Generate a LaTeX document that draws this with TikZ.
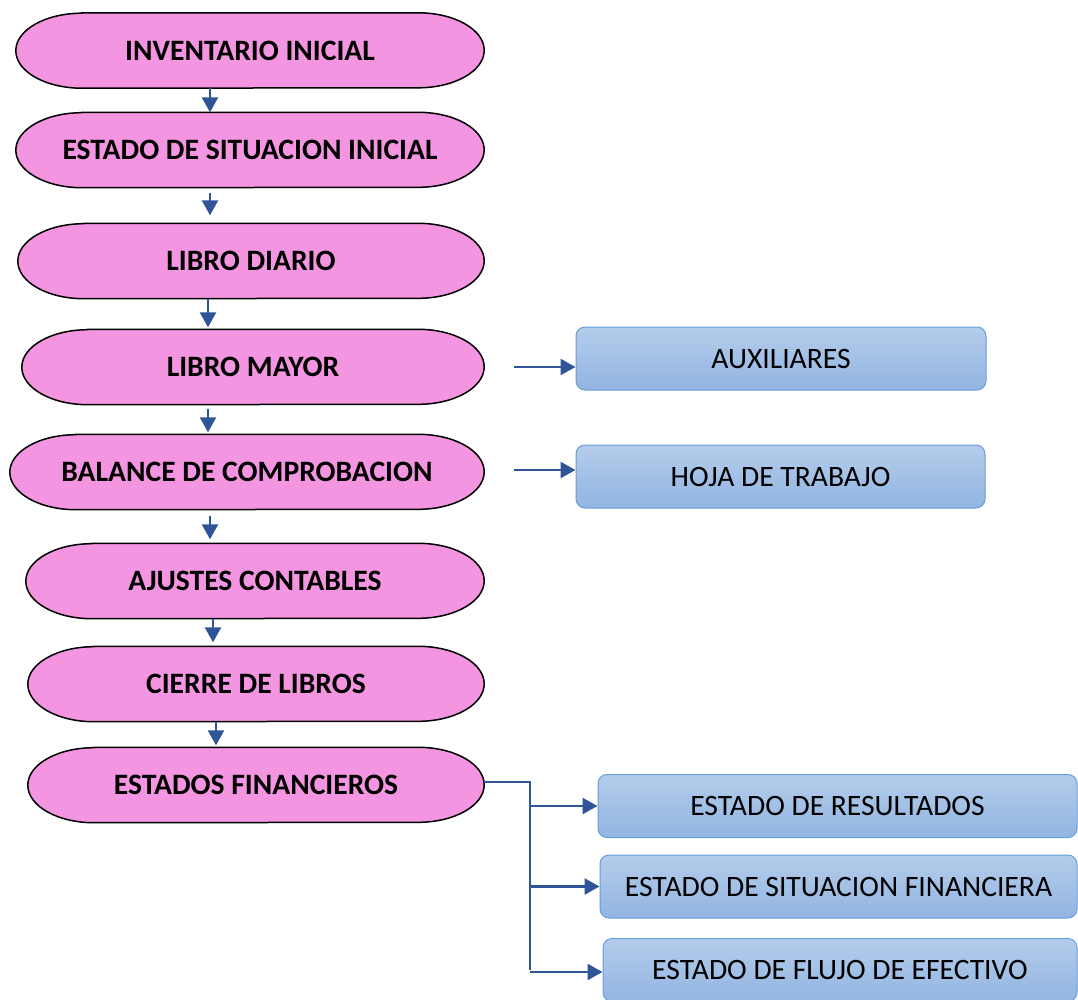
\documentclass[tikz,border=0pt]{standalone}
\usepackage{fontspec}
\setmainfont{Carlito}
\usetikzlibrary{arrows.meta,backgrounds}
\definecolor{pk}{RGB}{243, 149, 224}
\definecolor{ar}{RGB}{47, 85, 151}
\definecolor{bt}{RGB}{180, 204, 234}
\definecolor{bb}{RGB}{146, 181, 226}
\definecolor{bl}{RGB}{103, 158, 216}
\tikzset{
  pill/.style={inner sep=0pt, minimum height=75pt, font=\fontsize{29.6}{34}\selectfont\bfseries},
  pillline/.style={fill=pk, draw=black, line width=1.5pt},
  box/.style={rectangle, rounded corners=9pt, top color=bt, bottom color=bb, draw=bl,
    line width=1pt, inner sep=0pt, minimum height=63pt, font=\fontsize{29.6}{34}\selectfont},
  arr/.style={line width=2.6pt, color=ar, -{Triangle[length=15pt,width=16pt]}},
  trunk/.style={line width=1.4pt, color=ar}
}

\begin{document}
\begin{tikzpicture}
\useasboundingbox (0pt, 0pt) rectangle (1078pt, -999pt);
\node (1) [pill, minimum width=468pt] at (250pt, -50.5pt) {INVENTARIO INICIAL};
\node (2) [pill, minimum width=468pt] at (250pt, -150pt) {ESTADO DE SITUACION INICIAL};
\node (3) [pill, minimum width=466pt] at (251pt, -261pt) {LIBRO DIARIO};
\node (4) [pill, minimum width=462pt] at (253pt, -367pt) {LIBRO MAYOR};
\node (5) [pill, minimum width=474pt] at (247pt, -472pt) {BALANCE DE COMPROBACION};
\node (6) [pill, minimum width=458pt] at (255pt, -581pt) {AJUSTES CONTABLES};
\node (7) [pill, minimum width=456pt] at (256pt, -684pt) {CIERRE DE LIBROS};
\node (8) [pill, minimum width=456pt] at (256pt, -785pt) {ESTADOS FINANCIEROS};
\node (9) [box, minimum width=410pt] at (781pt, -358.5pt) {AUXILIARES};
\node (10) [box, minimum width=409pt] at (780.5pt, -476.5pt) {HOJA DE TRABAJO};
\node (11) [box, minimum width=479pt] at (837.5pt, -806pt) {ESTADO DE RESULTADOS};
\node (12) [box, minimum width=477pt] at (838.5pt, -886.5pt) {ESTADO DE SITUACION FINANCIERA};
\node (13) [box, minimum width=474pt] at (840pt, -970pt) {ESTADO DE FLUJO DE EFECTIVO};
% pink outlines behind the labels
\begin{scope}[on background layer]
\foreach \n in {1,...,8}
  \draw [pillline] ([xshift=66pt]\n.north west) -- ([xshift=-66pt]\n.north east)
    arc[start angle=90, end angle=-90, x radius=66pt, y radius=37.5pt]
    -- ([xshift=66pt]\n.south west)
    arc[start angle=270, end angle=90, x radius=66pt, y radius=37.5pt] -- cycle;
\end{scope}
\draw [arr] (1.south -| 210pt, 0) -- (2.north -| 210pt, 0);
\draw [arr, shorten <=5pt, shorten >=8pt] (2.south -| 210pt, 0) -- (3.north -| 210pt, 0);
\draw [arr, shorten >=2pt] (3.south -| 208pt, 0) -- (4.north -| 208pt, 0);
\draw [arr, shorten <=4pt, shorten >=2pt] (4.south -| 208pt, 0) -- (5.north -| 208pt, 0);
\draw [arr, shorten <=6pt, shorten >=4pt] (5.south -| 210pt, 0) -- (6.north -| 210pt, 0);
\draw [arr, shorten >=4pt] (6.south -| 213pt, 0) -- (7.north -| 213pt, 0);
\draw [arr, shorten >=2pt] (7.south -| 216pt, 0) -- (8.north -| 216pt, 0);
\draw [arr, shorten <=30pt] (4.east) -- (4.east -| 9.west);
\draw [arr, shorten <=30pt] ([yshift=2pt]5.east) -- ([yshift=2pt]5.east -| 10.west);
\coordinate (j) at (530pt, -782pt);
\draw [trunk] ([yshift=3pt]8.east) -- (j) -- (j |- 13.west);
\draw [arr] (j |- 11.west) -- (11.west);
\draw [arr] (j |- 12.west) -- (12.west);
\draw [arr] ([yshift=-2pt]j |- 13.west) -- ([yshift=-2pt]13.west);
\end{tikzpicture}
\end{document}
